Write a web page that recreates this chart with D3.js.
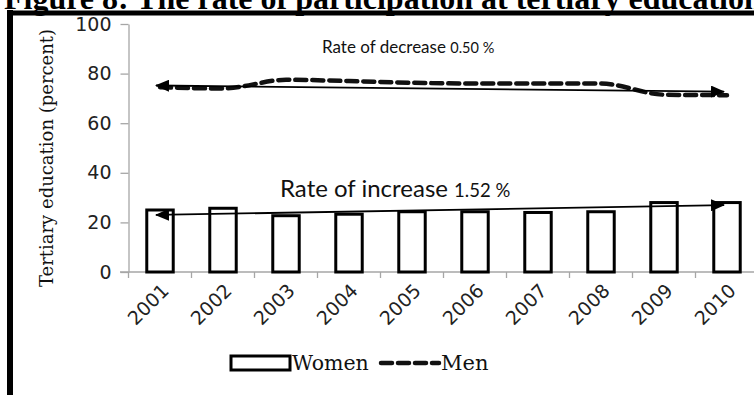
<!DOCTYPE html>
<html>
<head>
<meta charset="utf-8">
<script src="https://cdn.jsdelivr.net/npm/d3@7"></script>
<style>
  html, body { margin: 0; padding: 0; background: #fff; overflow: hidden; }
  svg { display: block; }
</style>
</head>
<body>
<svg id="chart" width="754" height="395"></svg>
<script>
// Participation in tertiary education, 2001-2010 (percent)
const years = ["2001", "2002", "2003", "2004", "2005", "2006", "2007", "2008", "2009", "2010"];
const women = [25.0, 25.7, 22.7, 23.3, 24.3, 24.3, 24.0, 24.3, 28.0, 28.0];
const men = [74.5, 74.0, 77.5, 77.0, 76.3, 76.0, 76.0, 76.0, 71.5, 71.3];
const yTicks = [0, 20, 40, 60, 80, 100];

// Linear trend end points (first year, last year)
const menTrend = [75.2, 72.7];
const womenTrend = [23.0, 27.0];
const menRate = "0.50 %";
const womenRate = "1.52 %";

const svg = d3.select("#chart");

const x = d3.scaleBand().domain(years).range([128.5, 758.5]).padding(0);
const y = d3.scaleLinear().domain([0, 100]).range([272, 24]);
const cx = d => x(d) + x.bandwidth() / 2;
const barW = x.bandwidth() * 0.42;

const serif = "'DejaVu Serif', 'Liberation Serif', serif";
const sans = "'DejaVu Sans', 'Open Sans', sans-serif";

// Figure title (top part falls outside the frame)
svg.append("text")
  .attr("x", 4).attr("y", 9)
  .attr("font-family", "'Liberation Serif', 'Times New Roman', serif")
  .attr("font-weight", "bold")
  .attr("font-size", 32)
  .attr("fill", "#000")
  .text("Figure 8: The rate of participation at tertiary education");

// Frame
svg.append("line").attr("x1", 10).attr("x2", 10).attr("y1", 10).attr("y2", 395)
  .attr("stroke", "#000").attr("stroke-width", 6);
svg.append("line").attr("x1", 7).attr("x2", 754).attr("y1", 13).attr("y2", 13)
  .attr("stroke", "#000").attr("stroke-width", 5);

// Arrow head marker
const defs = svg.append("defs");
defs.append("marker")
  .attr("id", "arrow")
  .attr("viewBox", "0 0 14 12")
  .attr("refX", 13).attr("refY", 6)
  .attr("markerWidth", 14).attr("markerHeight", 12)
  .attr("markerUnits", "userSpaceOnUse")
  .attr("orient", "auto-start-reverse")
  .append("path").attr("d", "M0,0 L14,6 L0,12 Z").attr("fill", "#000");

// Y axis
const yAxis = d3.axisLeft(y).tickValues(yTicks).tickSize(8).tickSizeOuter(0).tickPadding(9);
const gy = svg.append("g").attr("transform", "translate(128.5,0)").call(yAxis);
gy.select(".domain").attr("stroke", "#a6a6a6").attr("stroke-width", 1.3);
gy.selectAll(".tick line").attr("stroke", "#a6a6a6").attr("stroke-width", 1.3);
gy.selectAll(".tick text")
  .attr("font-family", sans)
  .attr("font-size", 19)
  .attr("fill", "#222");

// X axis line and category boundary ticks
svg.append("line")
  .attr("x1", 120).attr("x2", 758.5).attr("y1", y(0)).attr("y2", y(0))
  .attr("stroke", "#a6a6a6").attr("stroke-width", 1.3);
svg.append("g").selectAll("line")
  .data(years)
  .join("line")
  .attr("x1", d => x(d)).attr("x2", d => x(d))
  .attr("y1", y(0)).attr("y2", y(0) + 6)
  .attr("stroke", "#a6a6a6").attr("stroke-width", 1.3);

// Year labels
svg.append("g").selectAll("text")
  .data(years)
  .join("text")
  .attr("transform", d => `translate(${cx(d) + 10},${y(0) + 20}) rotate(-45)`)
  .attr("text-anchor", "end")
  .attr("font-family", sans)
  .attr("font-size", 19)
  .attr("fill", "#222")
  .text(d => d);

// Y axis title
svg.append("text")
  .attr("transform", `translate(53,${(y(0) + y(100)) / 2 + 10}) rotate(-90)`)
  .attr("text-anchor", "middle")
  .attr("font-family", serif)
  .attr("font-size", 18)
  .attr("fill", "#111")
  .text("Tertiary education (percent)");

// Women bars
svg.append("g").selectAll("rect")
  .data(years)
  .join("rect")
  .attr("x", d => cx(d) - barW / 2)
  .attr("y", (d, i) => y(women[i]))
  .attr("width", barW)
  .attr("height", (d, i) => y(0) - y(women[i]))
  .attr("fill", "#fff")
  .attr("stroke", "#000")
  .attr("stroke-width", 3);

// Men line
const line = d3.line()
  .x((d, i) => cx(years[i]))
  .y(d => y(d))
  .curve(d3.curveMonotoneX);
svg.append("path")
  .datum(men)
  .attr("d", line)
  .attr("fill", "none")
  .attr("stroke", "#111")
  .attr("stroke-width", 4.5)
  .attr("stroke-dasharray", "11,6")
  .attr("stroke-linecap", "round");

// Trend arrows
function trendArrow(vals) {
  svg.append("line")
    .attr("x1", cx(years[0]) - 4).attr("y1", y(vals[0]))
    .attr("x2", cx(years[years.length - 1]) - 3).attr("y2", y(vals[1]))
    .attr("stroke", "#000").attr("stroke-width", 1.8)
    .attr("marker-start", "url(#arrow)")
    .attr("marker-end", "url(#arrow)");
}
trendArrow(menTrend);
trendArrow(womenTrend);

// Trend annotations
const noteFont = "'Lato', 'Liberation Sans', sans-serif";
const t1 = svg.append("text").attr("x", 322).attr("y", 53)
  .attr("font-family", noteFont).attr("fill", "#111");
t1.append("tspan").attr("font-size", 17).text("Rate of decrease ");
t1.append("tspan").attr("font-size", 14.5).text(menRate);

const t2 = svg.append("text").attr("x", 280).attr("y", 197)
  .attr("font-family", noteFont).attr("fill", "#111");
t2.append("tspan").attr("font-size", 24).text("Rate of increase ");
t2.append("tspan").attr("font-size", 18.5).text(womenRate);

// Legend
const lg = svg.append("g");
lg.append("rect").attr("x", 231).attr("y", 356).attr("width", 59).attr("height", 14)
  .attr("fill", "#fff").attr("stroke", "#000").attr("stroke-width", 3);
lg.append("text").attr("x", 292).attr("y", 370)
  .attr("font-family", serif).attr("font-size", 20.5).attr("fill", "#111")
  .text("Women");
lg.append("line").attr("x1", 381).attr("x2", 439).attr("y1", 363).attr("y2", 363)
  .attr("stroke", "#111").attr("stroke-width", 4.5).attr("stroke-dasharray", "11,6")
  .attr("stroke-linecap", "round");
lg.append("text").attr("x", 441).attr("y", 370)
  .attr("font-family", serif).attr("font-size", 21).attr("fill", "#111")
  .text("Men");
</script>
</body>
</html>
